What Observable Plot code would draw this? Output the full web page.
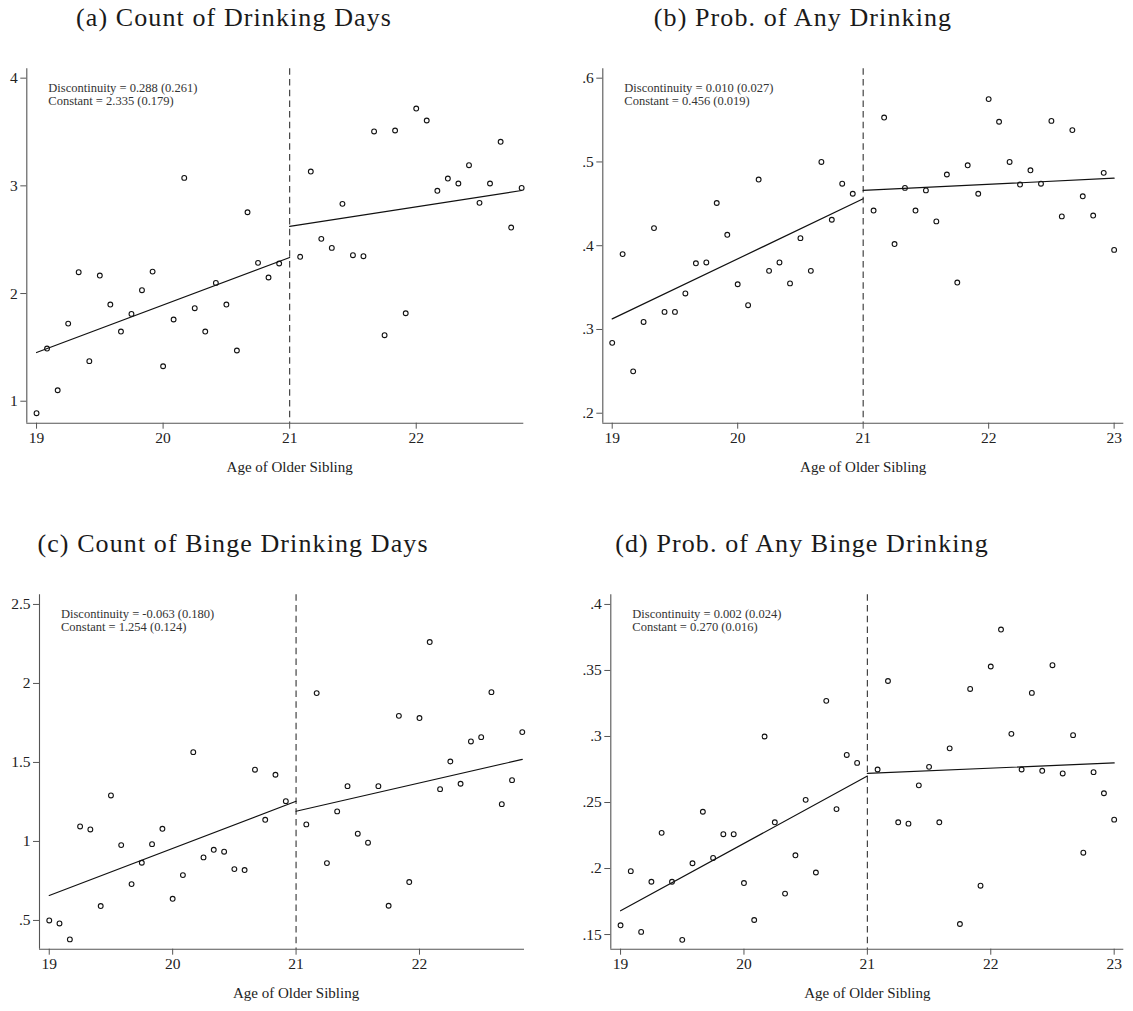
<!DOCTYPE html>
<html>
<head>
<meta charset="utf-8">
<script src="https://cdn.jsdelivr.net/npm/d3@7"></script>
<script src="https://cdn.jsdelivr.net/npm/@observablehq/plot@0.6"></script>
<style>
  body { margin: 0; background: #fff; }
  #fig { position: relative; width: 1133px; height: 1011px; overflow: hidden; background: #fff; }
  #fig svg { position: absolute; }
  .ttl {
    position: absolute;
    font-family: "Liberation Serif", "Times New Roman", serif;
    font-size: 26px;
    line-height: 26px;
    letter-spacing: 1.1px;
    color: #1a1a1a;
    white-space: nowrap;
    transform: translateX(-50%);
  }
</style>
</head>
<body>
<div id="fig"></div>
<script>
// Age of the older sibling (monthly bins), for panels ending at 22 years 10 months
const agesShort = [
  19, 19.083, 19.167, 19.25, 19.333, 19.417, 19.5, 19.583, 19.667, 19.75, 19.833, 19.917,
  20, 20.083, 20.167, 20.25, 20.333, 20.417, 20.5, 20.583, 20.667, 20.75, 20.833, 20.917,
  21.083, 21.167, 21.25, 21.333, 21.417, 21.5, 21.583, 21.667, 21.75, 21.833, 21.917,
  22, 22.083, 22.167, 22.25, 22.333, 22.417, 22.5, 22.583, 22.667, 22.75, 22.833
];
// ... and for panels running to age 23
const agesLong = [
  19, 19.083, 19.167, 19.25, 19.333, 19.417, 19.5, 19.583, 19.667, 19.75, 19.833, 19.917,
  20, 20.083, 20.167, 20.25, 20.333, 20.417, 20.5, 20.583, 20.667, 20.75, 20.833, 20.917,
  21.083, 21.167, 21.25, 21.333, 21.417, 21.5, 21.583, 21.667, 21.75, 21.833, 21.917,
  22, 22.083, 22.167, 22.25, 22.333, 22.417, 22.5, 22.583, 22.667, 22.75, 22.833, 22.917, 23
];

// Bin means
const drinkDays = [
  0.889, 1.489, 1.102, 1.721, 2.198, 1.372, 2.167, 1.898, 1.647, 1.811, 2.031, 2.204,
  1.325, 1.759, 3.074, 1.864, 1.647, 2.099, 1.898, 1.471, 2.755, 2.285, 2.149, 2.279,
  2.341, 3.133, 2.508, 2.424, 2.833, 2.356, 2.347, 3.505, 1.613, 3.514, 1.817,
  3.718, 3.607, 2.954, 3.068, 3.022, 3.192, 2.842, 3.022, 3.409, 2.613, 2.981
];
const anyDrink = [
  0.284, 0.390, 0.250, 0.309, 0.421, 0.321, 0.321, 0.343, 0.379, 0.380, 0.451, 0.413,
  0.354, 0.329, 0.479, 0.370, 0.380, 0.355, 0.409, 0.370, 0.500, 0.431, 0.474, 0.462,
  0.442, 0.553, 0.402, 0.469, 0.442, 0.466, 0.429, 0.485, 0.356, 0.496, 0.462,
  0.575, 0.548, 0.500, 0.473, 0.490, 0.474, 0.549, 0.435, 0.538, 0.459, 0.436, 0.487, 0.395
];
const bingeDays = [
  0.500, 0.481, 0.380, 1.095, 1.076, 0.591, 1.291, 0.977, 0.730, 0.865, 0.983, 1.080,
  0.637, 0.787, 1.565, 0.899, 0.947, 0.935, 0.825, 0.819, 1.454, 1.137, 1.422, 1.255,
  1.108, 1.939, 0.863, 1.190, 1.350, 1.049, 0.992, 1.350, 0.593, 1.795, 0.743,
  1.781, 2.262, 1.331, 1.506, 1.365, 1.633, 1.660, 1.945, 1.236, 1.388, 1.692
];
const anyBinge = [
  0.157, 0.198, 0.152, 0.190, 0.227, 0.190, 0.146, 0.204, 0.243, 0.208, 0.226, 0.226,
  0.189, 0.161, 0.300, 0.235, 0.181, 0.210, 0.252, 0.197, 0.327, 0.245, 0.286, 0.280,
  0.275, 0.342, 0.235, 0.234, 0.263, 0.277, 0.235, 0.291, 0.158, 0.336, 0.187,
  0.353, 0.381, 0.302, 0.275, 0.333, 0.274, 0.354, 0.272, 0.301, 0.212, 0.273, 0.257, 0.237
];

// Regression-discontinuity estimates: [discontinuity, its s.e., constant, its s.e.]
const estDrinkDays = [0.288, 0.261, 2.335, 0.179];
const estAnyDrink  = [0.010, 0.027, 0.456, 0.019];
const estBingeDays = [-0.063, 0.180, 1.254, 0.124];
const estAnyBinge  = [0.002, 0.024, 0.270, 0.016];

// Fitted line at the first and last age: [value at 19, value at last age]
const fitEndsDrinkDays = [1.452, 2.957];
const fitEndsAnyDrink  = [0.3126, 0.4806];
const fitEndsBingeDays = [0.658, 1.519];
const fitEndsAnyBinge  = [0.168, 0.280];

// Axis ticks and labels
const xTicksShort = [19, 20, 21, 22];
const xTicksLong = [19, 20, 21, 22, 23];
const yTicksDrinkDays = [1, 2, 3, 4];
const yLabelsDrinkDays = ["1", "2", "3", "4"];
const yTicksAnyDrink = [0.2, 0.3, 0.4, 0.5, 0.6];
const yLabelsAnyDrink = [".2", ".3", ".4", ".5", ".6"];
const yTicksBingeDays = [0.5, 1, 1.5, 2, 2.5];
const yLabelsBingeDays = [".5", "1", "1.5", "2", "2.5"];
const yTicksAnyBinge = [0.15, 0.2, 0.25, 0.3, 0.35, 0.4];
const yLabelsAnyBinge = [".15", ".2", ".25", ".3", ".35", ".4"];

const titles = [
  "(a) Count of Drinking Days",
  "(b) Prob. of Any Drinking",
  "(c) Count of Binge Drinking Days",
  "(d) Prob. of Any Binge Drinking"
];
const xTitle = "Age of Older Sibling";
const cutoff = 21;

const panels = [
  { title: titles[0], ages: agesShort, values: drinkDays, est: estDrinkDays, fitEnds: fitEndsDrinkDays,
    xTicks: xTicksShort, yTicks: yTicksDrinkDays, yLabels: yLabelsDrinkDays,
    xDomain: [18.923, 22.85], yDomain: [0.796, 4.087],
    svg: { x: 0, y: 40, w: 566, h: 470 }, frame: { l: 26.3, r: 523.3, t: 68.3, b: 422.7 },
    titleX: 234, titleTop: 5 },
  { title: titles[1], ages: agesLong, values: anyDrink, est: estAnyDrink, fitEnds: fitEndsAnyDrink,
    xTicks: xTicksLong, yTicks: yTicksAnyDrink, yLabels: yLabelsAnyDrink,
    xDomain: [18.925, 23.077], yDomain: [0.1881, 0.6112],
    svg: { x: 566, y: 40, w: 567, h: 470 }, frame: { l: 602.3, r: 1123.3, t: 68.3, b: 422.7 },
    titleX: 803, titleTop: 5 },
  { title: titles[2], ages: agesShort, values: bingeDays, est: estBingeDays, fitEnds: fitEndsBingeDays,
    xTicks: xTicksShort, yTicks: yTicksBingeDays, yLabels: yLabelsBingeDays,
    xDomain: [18.921, 22.851], yDomain: [0.318, 2.561],
    svg: { x: 0, y: 560, w: 566, h: 451 }, frame: { l: 39, r: 524, t: 594.3, b: 948.7 },
    titleX: 233, titleTop: 531 },
  { title: titles[3], ages: agesLong, values: anyBinge, est: estAnyBinge, fitEnds: fitEndsAnyBinge,
    xTicks: xTicksLong, yTicks: yTicksAnyBinge, yLabels: yLabelsAnyBinge,
    xDomain: [18.921, 23.078], yDomain: [0.1389, 0.4073],
    svg: { x: 566, y: 560, w: 567, h: 451 }, frame: { l: 610.3, r: 1123.3, t: 594.3, b: 948.7 },
    titleX: 802, titleTop: 531 }
];

const fig = document.getElementById("fig");
const serif = '"Liberation Serif", "Times New Roman", serif';

for (const p of panels) {
  const [disc, discSe, constant, constSe] = p.est;
  const firstAge = p.ages[0];
  const lastAge = p.ages[p.ages.length - 1];

  const rows = p.ages.map((age, i) => ({ age, v: p.values[i] }));

  // Linear fits on each side of the cutoff, meeting the stated constant and jump
  const fitRows = [
    { side: "below", x: firstAge, y: p.fitEnds[0] },
    { side: "below", x: cutoff, y: constant },
    { side: "above", x: cutoff, y: constant + disc },
    { side: "above", x: lastAge, y: p.fitEnds[1] }
  ];

  const note = `Discontinuity = ${disc.toFixed(3)} (${discSe.toFixed(3)})\nConstant = ${constant.toFixed(3)} (${constSe.toFixed(3)})`;
  const yLabelOf = new Map(p.yTicks.map((t, i) => [t, p.yLabels[i]]));

  const chart = Plot.plot({
    width: p.svg.w,
    height: p.svg.h,
    marginLeft: p.frame.l - p.svg.x,
    marginRight: p.svg.x + p.svg.w - p.frame.r,
    marginTop: p.frame.t - p.svg.y,
    marginBottom: p.svg.y + p.svg.h - p.frame.b,
    style: { fontFamily: serif, fontSize: "15.5px", color: "#222", background: "transparent", overflow: "visible" },
    x: { domain: p.xDomain },
    y: { domain: p.yDomain },
    marks: [
      Plot.axisX({ ticks: p.xTicks, tickFormat: (d) => String(d), tickSize: 6, tickPadding: 3,
        stroke: "#555", fill: "#222", label: null }),
      Plot.axisY({ ticks: p.yTicks, tickFormat: (d) => yLabelOf.get(d), tickSize: 6, tickPadding: 3,
        stroke: "#555", fill: "#222", label: null }),
      Plot.ruleX([p.xDomain[0]], { stroke: "#555", strokeWidth: 1.1 }),
      Plot.ruleY([p.yDomain[0]], { stroke: "#555", strokeWidth: 1.1 }),
      Plot.ruleX([cutoff], { stroke: "#333", strokeWidth: 1.1, strokeDasharray: "6.5,4.2" }),
      Plot.line(fitRows, { x: "x", y: "y", z: "side", stroke: "#111", strokeWidth: 1.2 }),
      Plot.dot(rows, { x: "age", y: "v", r: 2.4, stroke: "#111", strokeWidth: 1.1, fill: "none" }),
      Plot.text([note], { frameAnchor: "top-left", dx: 21.5, dy: 13.8, textAnchor: "start",
        lineAnchor: "top", lineHeight: 1.05, fontSize: 12.5, fill: "#333" }),
      Plot.text([{ x: cutoff, t: xTitle }], { x: "x", text: "t", frameAnchor: "bottom", dy: 49,
        fontSize: 15, fill: "#222" })
    ]
  });
  chart.style.left = p.svg.x + "px";
  chart.style.top = p.svg.y + "px";
  fig.appendChild(chart);

  const t = document.createElement("div");
  t.className = "ttl";
  t.textContent = p.title;
  t.style.left = p.titleX + "px";
  t.style.top = p.titleTop + "px";
  fig.appendChild(t);
}
</script>
</body>
</html>
